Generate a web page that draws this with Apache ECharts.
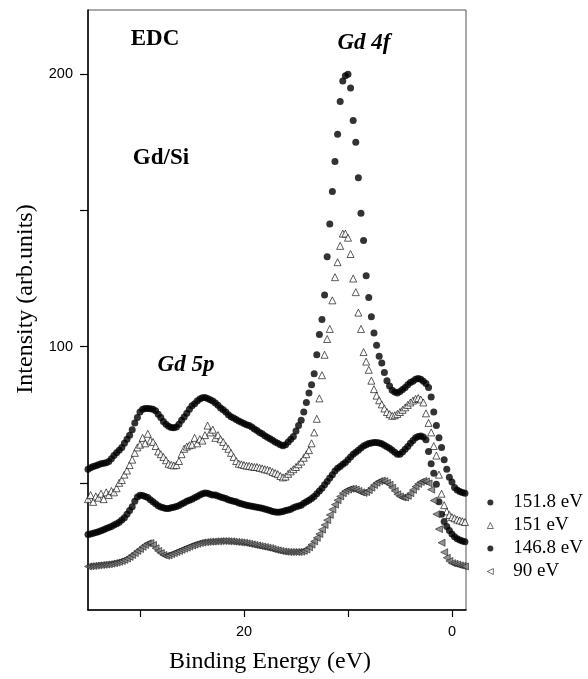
<!DOCTYPE html>
<html>
<head>
<meta charset="utf-8">
<script src="https://cdn.jsdelivr.net/npm/echarts@6/dist/echarts.min.js"></script>
<style>
    html, body { margin: 0; padding: 0; background: #fff; }
    #chart { width: 588px; height: 679px; }
</style>
</head>
<body>
<div id="chart"></div>
<script>
// binding energy (eV), shared by all four spectra
var energies = [
    35, 34.75, 34.5, 34.25, 34, 33.75, 33.5, 33.25, 33, 32.75,
    32.5, 32.25, 32, 31.75, 31.5, 31.25, 31, 30.75, 30.5, 30.25,
    30, 29.75, 29.5, 29.25, 29, 28.75, 28.5, 28.25, 28, 27.75,
    27.5, 27.25, 27, 26.75, 26.5, 26.25, 26, 25.75, 25.5, 25.25,
    25, 24.75, 24.5, 24.25, 24, 23.75, 23.5, 23.25, 23, 22.75,
    22.5, 22.25, 22, 21.75, 21.5, 21.25, 21, 20.75, 20.5, 20.25,
    20, 19.75, 19.5, 19.25, 19, 18.75, 18.5, 18.25, 18, 17.75,
    17.5, 17.25, 17, 16.75, 16.5, 16.25, 16, 15.75, 15.5, 15.25,
    15, 14.75, 14.5, 14.25, 14, 13.75, 13.5, 13.25, 13, 12.75,
    12.5, 12.25, 12, 11.75, 11.5, 11.25, 11, 10.75, 10.5, 10.25,
    10, 9.75, 9.5, 9.25, 9, 8.75, 8.5, 8.25, 8, 7.75,
    7.5, 7.25, 7, 6.75, 6.5, 6.25, 6, 5.75, 5.5, 5.25,
    5, 4.75, 4.5, 4.25, 4, 3.75, 3.5, 3.25, 3, 2.75,
    2.5, 2.25, 2, 1.75, 1.5, 1.25, 1, 0.75, 0.5, 0.25,
    0, -0.25, -0.5, -0.75, -1, -1.25
];

// 151.8 eV
var edc1518 = [
    55, 55.5, 56, 56.3, 56.6, 57, 57.2, 57.4, 57.8, 58.8,
    60, 61, 62, 63, 64.5, 66, 67.5, 69.5, 72, 74,
    76, 77, 77.3, 77.3, 77.2, 77, 76.5, 75.2, 74, 72.5,
    71.5, 70.8, 70.3, 70.2, 70.5, 71.5, 73, 74.2, 75.5, 77,
    78.3, 79, 80, 80.8, 81.2, 81.3, 81, 80.5, 80, 79.3,
    78.5, 77.5, 76.8, 76, 75, 74.3, 73.8, 73.2, 72.7, 72.2,
    71.8, 71.3, 71, 70.5, 69.8, 69.2, 68.5, 68, 67.3, 66.7,
    66.2, 65.6, 65, 64.5, 64, 63.6, 64, 65, 66, 67,
    69, 71, 73, 76, 79.5, 83, 86, 90, 97, 104.5,
    110, 119, 133, 145, 157, 168, 178, 190, 197.5, 199.5,
    200, 195, 183, 175, 162, 149, 139, 126, 118, 111,
    105, 100.5, 96.5, 94, 90.5, 87.5, 85.5, 84, 83.3, 83,
    83.5, 84.3, 85, 86, 86.8, 87.3, 88, 88.3, 88, 87.3,
    86.5, 85, 81.5, 76, 71, 66.5, 63, 58.5, 55, 52,
    50.3, 48.3, 47.4, 46.8, 46.4, 46.2
];

// 151 eV
var edc151 = [
    44, 45.5, 43, 45, 44.5, 46, 44, 46.5, 45.5, 47,
    46.5, 48, 50, 51, 53, 54.5, 56.5, 58.5, 61, 63,
    64, 66.5, 64.5, 68, 65.5, 65, 63.5, 61.5, 60.5, 59.5,
    58.3, 57, 56.6, 56.4, 56.5, 58, 60.5, 62.5, 63.3, 63.8,
    64, 66.5, 64.5, 66, 65.5, 67.5, 71, 68.5, 69.5, 66.5,
    67.5, 66, 65, 63.5, 62.5, 61, 59.5, 58, 57, 56.8,
    56.5, 56.3, 56.2, 56, 55.8, 55.8, 55.5, 55.3, 55, 54.8,
    54.5, 54, 53.6, 53.2, 52.5, 52, 52.3, 53.3, 54.2, 55,
    55.8, 56.8, 57.8, 59.2, 60.5, 62, 64.5, 68.5, 73.5, 81,
    89.5, 97, 102.8, 106.5, 117, 125.5, 131, 137, 141.5, 141.5,
    140, 134, 125, 120, 112.5, 106.5, 98, 94.5, 91.5, 87.5,
    84.4, 82, 80.3, 78.8, 77.3, 76, 75.2, 74.6, 74.8, 75.3,
    76, 76.8, 77.7, 78.6, 79.5, 80.2, 80.8, 81.1, 80.6, 79.5,
    75.5, 72, 68.5, 63.5, 60, 53, 46, 41.8, 39.5, 38.2,
    37.4, 37, 36.5, 36.2, 35.9, 35.6
];

// 146.8 eV
var edc1468 = [
    31, 31.2, 31.5, 31.8, 32, 32.4, 32.8, 33.2, 33.6, 34,
    34.5, 35, 35.5, 36.3, 37.2, 38.5, 39.8, 41.2, 43.2, 44.8,
    45.4, 45.3, 45, 44.6, 43.8, 43, 42.3, 41.6, 41.1, 40.8,
    40.6, 40.6, 40.8, 41, 41.3, 41.7, 42.2, 42.7, 43.2, 43.6,
    44, 44.5, 45, 45.5, 46, 46.3, 46.2, 45.8, 45.5, 45.5,
    45.2, 44.8, 44.5, 44.2, 43.8, 43.5, 43.2, 43, 42.6, 42.3,
    42, 41.8, 41.6, 41.4, 41.2, 41, 40.8, 40.7, 40.4, 40.1,
    39.8, 39.5, 39.3, 39.2, 39.3, 39.5, 39.8, 40, 40.3, 40.8,
    41.2, 41.5, 41.8, 42.5, 43, 43.6, 44.2, 45, 46, 47,
    48, 49.3, 50.5, 51.8, 53, 54.3, 55.3, 56, 56.8, 57.5,
    58.5, 59.5, 60.5, 61.2, 62, 62.8, 63.5, 64, 64.4, 64.6,
    64.8, 64.8, 64.6, 64.3, 63.8, 63.2, 62.7, 62, 61.2, 60.5,
    60.5, 61.3, 62.3, 63.3, 64.5, 65.5, 66.5, 67, 67.2, 66.8,
    65.8, 61.5, 57, 53.5, 49.5, 43, 38.5, 35.8, 34, 32.5,
    31.2, 30.2, 29.5, 29, 28.6, 28.4
];

// 90 eV
var edc90 = [
    19.3, 19.4, 19.5, 19.6, 19.7, 19.8, 19.9, 20, 20.1, 20.3,
    20.5, 20.7, 21, 21.3, 21.7, 22.2, 22.8, 23.5, 24.2, 25,
    25.7, 26.5, 27.2, 27.8, 27.9, 27.2, 26, 25, 24.2, 23.5,
    23.2, 23.4, 23.8, 24.2, 24.6, 25, 25.4, 25.8, 26.2, 26.6,
    27, 27.3, 27.6, 27.9, 28.1, 28.2, 28.3, 28.4, 28.4, 28.5,
    28.5, 28.6, 28.6, 28.6, 28.5, 28.5, 28.4, 28.3, 28.2, 28.1,
    28, 27.8, 27.6, 27.4, 27.2, 27, 26.8, 26.6, 26.4, 26.2,
    26, 25.7, 25.4, 25.2, 25, 24.8, 24.7, 24.6, 24.6, 24.6,
    24.6, 24.6, 24.7, 25, 25.5, 26.3, 27.3, 28.5, 29.8, 31.2,
    32.8, 34.5, 36.3, 38.2, 40.2, 42, 43.6, 45, 46.2, 47,
    47.5, 47.8, 47.8, 47.5, 47, 46.5, 46.3, 46.6, 47.3, 48.2,
    49.2, 50, 50.6, 50.8, 50.6, 50, 49.3, 48.2, 47, 45.8,
    45, 44.6, 44.6, 45.2, 46.2, 47.4, 48.6, 49.6, 50.3, 50.7,
    50.5, 49.8, 47.5, 43.5, 38.5, 33, 28, 24.5, 22.5, 21.3,
    20.5, 20.3, 20, 19.7, 19.5, 19.3
];

var seriesNames = ['151.8 eV', '151 eV', '146.8 eV', '90 eV'];
var xTicks = [0, 10, 20, 30];
var xLabels = [0, 20];
var yTicks = [50, 100, 150, 200];
var yLabels = [100, 200];

function pairs(ys) {
    return energies.map(function (e, i) { return [e, ys[i]]; });
}

var serif = '"Liberation Serif", "Times New Roman", serif';
var sans = '"Liberation Sans", Arial, sans-serif';

var myChart = echarts.init(document.getElementById('chart'));

function note(text, x, y, italic) {
    return {
        type: 'text',
        x: x,
        y: y,
        style: {
            text: text,
            fontFamily: serif,
            fontSize: 23,
            fontWeight: 'bold',
            fontStyle: italic ? 'italic' : 'normal',
            fill: '#000',
            align: 'center',
            verticalAlign: 'middle',
            textAlign: 'center',
            textVerticalAlign: 'middle'
        }
    };
}

var openStyle = { color: '#fff', borderColor: '#000', borderWidth: 0.7 };

var option = {
    animation: false,
    backgroundColor: '#fff',
    grid: {
        left: 88, right: 122, top: 10, bottom: 63,
        show: true, borderColor: '#555', borderWidth: 1
    },
    xAxis: {
        type: 'value',
        inverse: true,
        min: -1.35,
        max: 35,
        name: 'Binding Energy (eV)',
        nameLocation: 'middle',
        nameGap: 40,
        nameTextStyle: { fontFamily: serif, fontSize: 24, color: '#000', padding: [0, 14, 0, 0] },
        axisLine: { show: true, onZero: false, lineStyle: { color: '#000', width: 1.5 } },
        axisTick: { show: true, length: 7, customValues: xTicks, lineStyle: { color: '#000', width: 1.2 } },
        axisLabel: { customValues: xLabels, margin: 14, fontFamily: sans, fontSize: 14.5, color: '#000' },
        splitLine: { show: false }
    },
    yAxis: {
        type: 'value',
        min: 3.3,
        max: 223.6,
        name: 'Intensity (arb.units)',
        nameLocation: 'middle',
        nameGap: 49,
        nameRotate: 90,
        nameTextStyle: { fontFamily: serif, fontSize: 24, color: '#000', padding: [0, 0, 0, 22] },
        axisLine: { show: true, onZero: false, lineStyle: { color: '#000', width: 1.5 } },
        axisTick: { show: true, length: 8, customValues: yTicks, lineStyle: { color: '#000', width: 1.2 } },
        axisLabel: { customValues: yLabels, margin: 15, fontFamily: sans, fontSize: 14.5, color: '#000' },
        splitLine: { show: false }
    },
    legend: {
        orient: 'vertical',
        left: 482,
        top: 488,
        itemWidth: 6,
        itemHeight: 6,
        itemGap: 4,
        data: [
            { name: seriesNames[0] },
            { name: seriesNames[1], itemStyle: openStyle },
            { name: seriesNames[2] },
            { name: seriesNames[3], icon: 'path://M0,5L10,0L10,10Z', itemStyle: openStyle }
        ],
        textStyle: { fontFamily: serif, fontSize: 19, color: '#000', padding: [0, 0, 0, 15] }
    },
    graphic: [
        note('EDC', 155, 39, false),
        note('Gd/Si', 161, 158, false),
        note('Gd 4f', 364, 43, true),
        note('Gd 5p', 186, 365, true)
    ],
    series: [{
        name: seriesNames[0],
        type: 'scatter',
        symbol: 'circle',
        symbolSize: 7,
        data: pairs(edc1518),
        itemStyle: { color: '#000' }
    }, {
        name: seriesNames[1],
        type: 'scatter',
        symbol: 'triangle',
        symbolSize: 7,
        data: pairs(edc151),
        itemStyle: { color: '#fff', borderColor: '#000', borderWidth: 0.8 }
    }, {
        name: seriesNames[2],
        type: 'scatter',
        symbol: 'circle',
        symbolSize: 7,
        data: pairs(edc1468),
        itemStyle: { color: '#000' }
    }, {
        name: seriesNames[3],
        type: 'scatter',
        symbol: 'triangle',
        symbolRotate: 90,
        symbolSize: 7,
        data: pairs(edc90),
        itemStyle: { color: '#7a7a7a', borderColor: '#111', borderWidth: 0.7 }
    }]
};

myChart.setOption(option);
</script>
</body>
</html>
